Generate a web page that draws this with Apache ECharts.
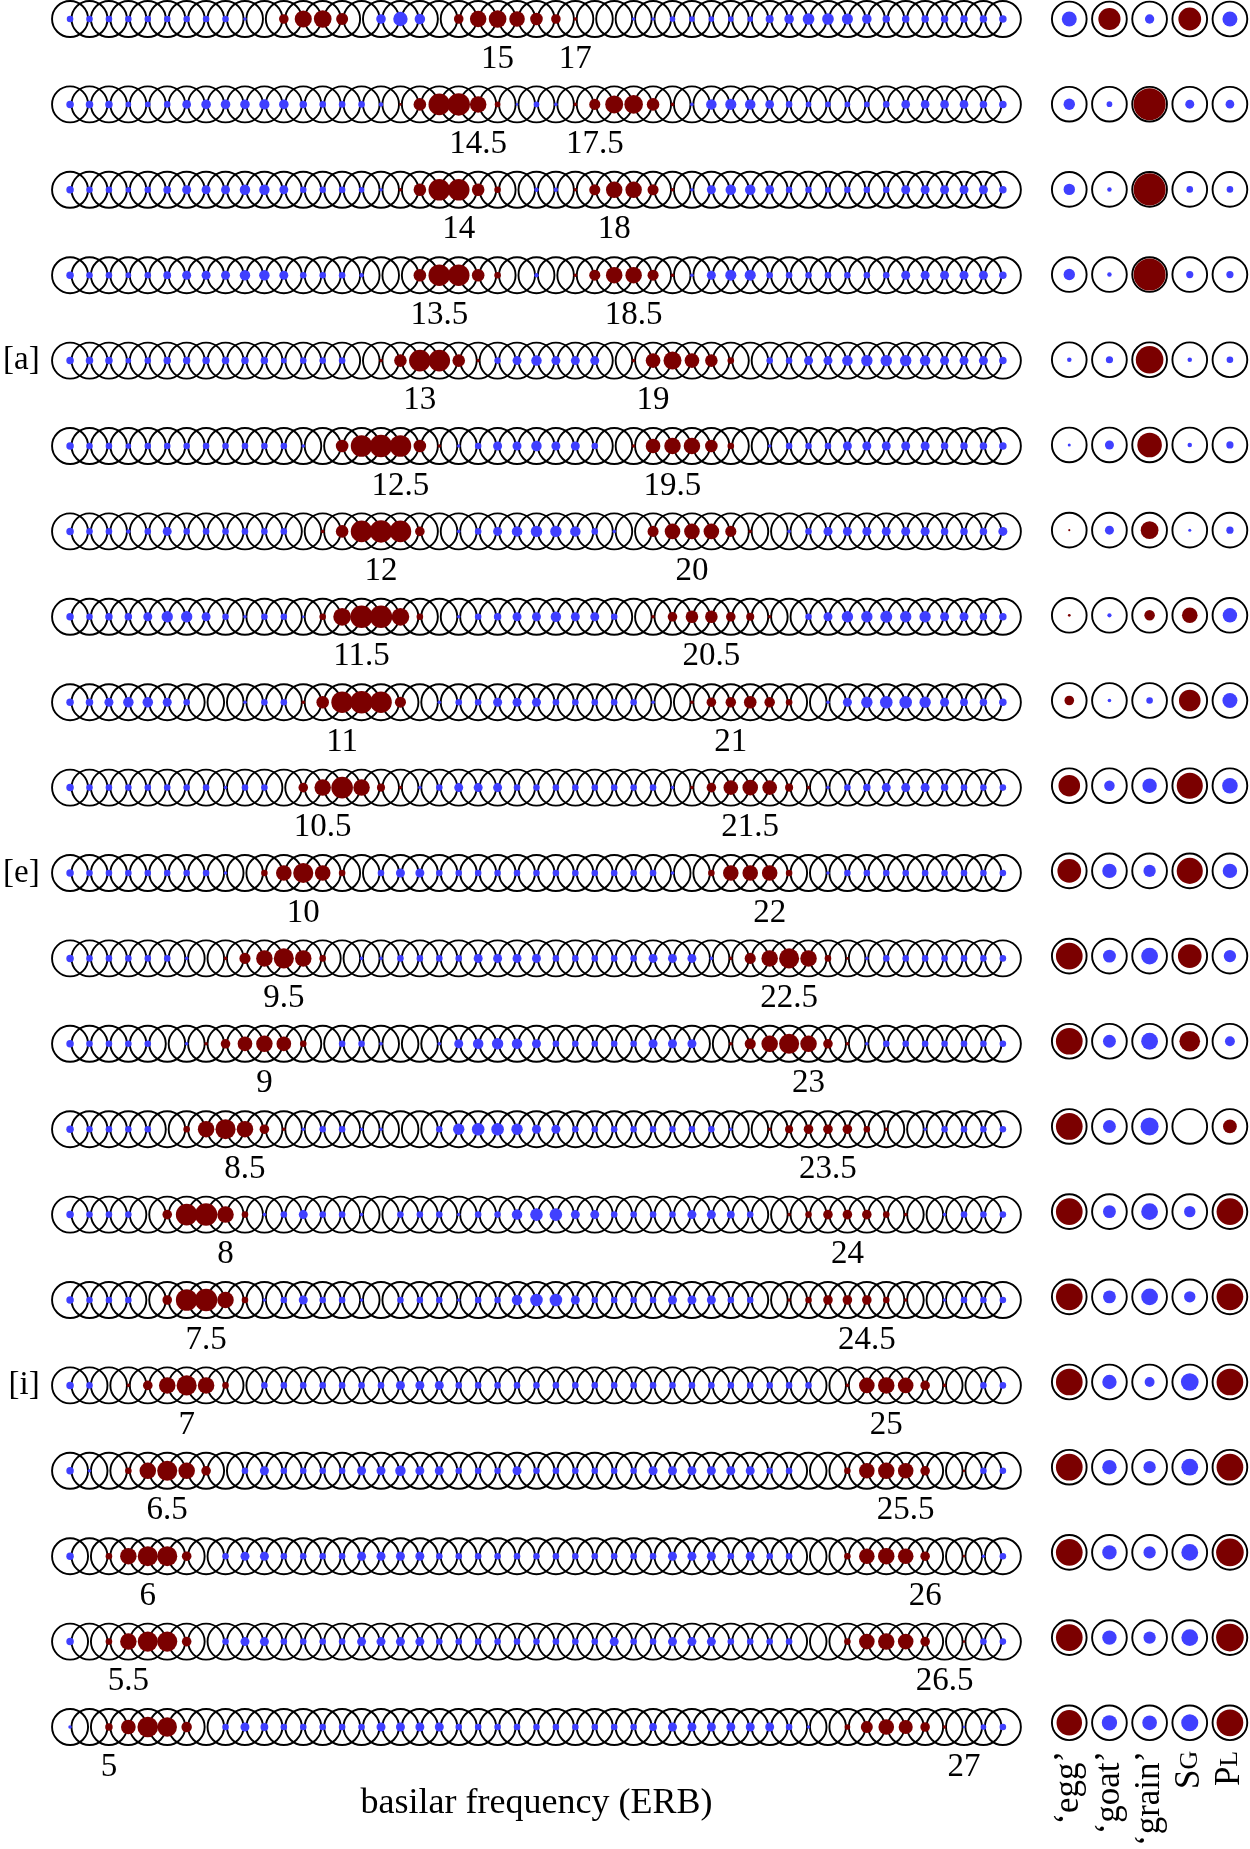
<!DOCTYPE html>
<html>
<head>
<meta charset="utf-8">
<title>basilar frequency (ERB)</title>
<script src="https://cdn.jsdelivr.net/npm/echarts@6/dist/echarts.min.js"></script>
<style>
  html, body { margin: 0; padding: 0; background: #fff; }
  #chart { width: 1250px; height: 1849px; }
</style>
</head>
<body>
<div id="chart"></div>
<script>
// filter centres along the chain (ERB)
const erbCentres = [4, 4.5, 5, 5.5, 6, 6.5, 7, 7.5, 8, 8.5, 9, 9.5, 10, 10.5, 11, 11.5, 12, 12.5, 13, 13.5,
  14, 14.5, 15, 15.5, 16, 16.5, 17, 17.5, 18, 18.5, 19, 19.5, 20, 20.5, 21, 21.5, 22, 22.5, 23, 23.5,
  24, 24.5, 25, 25.5, 26, 26.5, 27, 27.5, 28];

// the two frequencies written under each row
const lowLabels = [15, 14.5, 14, 13.5, 13, 12.5, 12, 11.5, 11, 10.5, 10, 9.5, 9, 8.5, 8, 7.5, 7, 6.5, 6, 5.5, 5];
const highLabels = [17, 17.5, 18, 18.5, 19, 19.5, 20, 20.5, 21, 21.5, 22, 22.5, 23, 23.5, 24, 24.5, 25, 25.5, 26, 26.5, 27];
const rowTags = ['', '', '', '', '[a]', '', '', '', '', '', '[e]', '', '', '', '', '', '[i]', '', '', '', ''];

// response of each filter, one array per row (+ = red, - = blue, size = magnitude)
const r0 = [-2, -2, -2, -2, -2, -2, -2, -2, -2, -1, 0, 3, 5.5, 5.7, 3.8, 0, -3, -4.6, -3.3,
  0, 3, 5.3, 5.7, 5, 4, 3, 1, 0, 0, -1, -1, -1.7, -1.7, -1.7, -1.7, -1.7, -2.5, -3, -3.7,
  -3.7, -3.5, -3, -2.3, -2.3, -2.3, -2.3, -2.3, -2.3, -2.3];
const r1 = [-2.3, -2.3, -2.3, -1.7, -1.7, -2, -2.7, -3, -3, -3, -3.2, -3, -2.3, -2, -2, -2, -1.3, 0.7, 4,
  7, 7.3, 5.3, 1.7, -0.7, -1.7, -1, 1, 3.5, 5.8, 6, 4, 1, -1, -3.3, -3.5, -3.3, -2.7, -2, -1.7,
  -1.7, -1.7, -1.7, -2, -2.7, -2.7, -2.7, -2.7, -2.3, -2.3];
const r2 = [-2.3, -2, -2, -1.7, -2, -2.4, -2.8, -2.8, -2.8, -3.3, -3.3, -2.8, -2, -2, -2, -1.7, -1, 1, 4,
  7, 7, 4, 2, 0, -1.3, -1.3, 1, 3.5, 5.3, 5.3, 3.5, 1, -1, -2.8, -3.3, -3.3, -2.8, -2, -2,
  -1.7, -2, -2, -2, -2.8, -2.8, -2.8, -2.8, -2.8, -2.3];
const r3 = [-2.3, -2, -2, -1.7, -2, -2.4, -2.8, -2.8, -2.8, -3.3, -3.3, -2.8, -2, -2, -2, -1.3, 0, 0, 4,
  7, 7, 4, 2, 0, -1.3, 0, 1, 3.5, 5.3, 5.3, 3.5, 1, -1, -2.8, -3.5, -3.5, -2, -2, -2,
  -2, -2, -2, -2, -2.8, -2.8, -2.8, -2.8, -2.8, -2.3];
const r4 = [-2.3, -2.3, -2.3, -1.7, -2, -2.3, -2.3, -2.3, -2.3, -2.3, -2.3, -1.7, -2, -2, -2, 0, 1, 4, 7,
  7, 4, 1, -2, -2.8, -3.3, -2.8, -2.8, -2.8, 0, 1, 4.7, 5.8, 4.7, 4, 2, 0, -2, -2, -2.8,
  -2.8, -3.3, -3.6, -3.6, -3.6, -3.3, -2.8, -2.8, -2.8, -2.3];
const r5 = [-2.3, -2, -2, -1.7, -2, -2, -2, -2, -2, -2, -2, -2, -1, 0, 4, 7, 7.3, 7, 4,
  1, -1, -2, -2.8, -2.8, -3.3, -2.8, -2.8, -2, 0, 1, 4.7, 5.3, 5.3, 4, 2, 0, -1, -2, -2,
  -2, -2.8, -2.8, -2.8, -2.8, -2.8, -2.3, -2.3, -2.3, -2.3];
const r6 = [-2.3, -2, -2, -1.3, -2, -2.8, -2, -2, -2, -2, -2, -2, 0, 1, 4, 7, 7.3, 7, 3,
  0, -1, -2, -2.8, -3.3, -3.6, -3.6, -3.3, -2, -1, 0, 3.5, 5, 5, 5, 3.5, 1, 0, -1, -2,
  -2.8, -2.8, -2.8, -2.8, -2.8, -2.8, -2.3, -2.3, -2.3, -2.8];
const r7 = [-2.3, -2, -2.3, -2.3, -2.8, -3.6, -3.6, -2.8, -2, -1, -2, -2, -0.7, 2, 5.7, 7.3, 7.3, 5.7, 2,
  0, -1, -2, -2.3, -2.8, -2.8, -3.3, -2.8, -2.8, -2, 0, 1, 3, 4, 4, 3, 2.5, 1, 0, -2,
  -2.8, -3.6, -3.6, -3.8, -3.6, -3.6, -2.8, -2.8, -2.3, -2.3];
const r8 = [-2.3, -2.3, -2.8, -3.3, -3.3, -2.8, -2, 0, 0, -1, -2, -2, 1, 4, 7, 7.3, 7, 3.5, 0,
  -1, -2, -2, -2.8, -2.8, -2.8, -2, -2, -2, -2, -2, -1, 0, 1, 3, 3.3, 4, 3.3, 2, 0,
  -1, -2.8, -3.6, -4, -4, -3.6, -2.8, -2.4, -2.3, -2.3];
const r9 = [-2.3, -2, -2, -2, -2, -2, -2, -2, -1, -2, -2, 0, 3, 5.3, 7, 5.3, 2.5, 1, -1,
  -2, -2.8, -2.8, -2.8, -2, -2, -2, -2, -2, -2, -2, -2, -1, 1, 3, 4.7, 5, 4.7, 2.5, 1,
  -1, -2, -2.3, -2.8, -2.8, -2.8, -2.3, -2, -2, -2];
const r10 = [-2.3, -2, -2, -2, -2, -2, -2, -2, -1, 0, 2, 5, 6.5, 5, 2, 0, -2, -2.8, -2.8,
  -2, -2, -2, -2, -2, -2, -2, -2, -2, -2, -2, -2, -1, 0, 2, 5, 5, 5, 2, 0,
  -1, -2, -2, -2, -2, -2, -2, -2, -2, -2];
const r11 = [-2.3, -2, -2, -2, -2, -2, -1, 0, 1, 3.5, 5.3, 6.5, 5.3, 2, 0, -1, -1, -2, -2,
  -2, -2, -2.8, -2.8, -2.8, -2.8, -2, -2, -2, -2, -2, -2.8, -2.8, -2.8, -1, 1, 3.5, 5.3, 6.5, 5.3,
  2, 0.7, -1, -2, -2, -2, -2, -2, -2, -2];
const r12 = [-2.3, -2, -2, -2, -2, 0, -1, 1, 3, 4.7, 5.3, 4.7, 2, 0, -2, -2, -1, 0, 0,
  -1, -2.8, -3.3, -3.6, -3.3, -2.8, -2, -2, -2, -2, -2, -2.8, -2.8, -2.8, 0, 1, 3.5, 5.3, 6.5, 5.3,
  3, 1, -1, -2, -2, -2, -2, -2, -2, -2];
const r13 = [-2.3, -2, -2, -2, -2, 0, 2, 5.3, 6.5, 5.3, 3, 1, -1, -2, -2, -1, -1, 0, 0,
  -2, -3.6, -4, -4, -3.6, -2.8, -2.8, -2, -2, -2, -2, -2, -2, -2, -2, -1, 0, 1, 2.5, 3,
  3, 3, 2, 1, 0, -1, -2, -2, -2, -2];
const r14 = [-2.3, -2, -2, -2, 0, 3, 7, 7.3, 5.3, 2, -1, -2, -2.8, -2, -2, -1, 0, -2, -2,
  -2, -1, -2, -2, -3.3, -4, -4, -2.8, -2.8, -2, -2, -2, -2, -2.8, -2.8, -2.4, -2, 0, 1, 2,
  3, 3, 3, 2, 1, 0, -1, -2, -2, -2];
const r15 = [-2.3, -2, -2, -2, 0, 3, 7, 7.3, 5.3, 2, -1, -2, -2.8, -2, -2, -1, 0, -2, -2,
  -2, -1, -2, -2, -3.3, -4, -4, -2.8, -2, -2, -2, -2, -2.8, -2.8, -2.8, -2, -2, 0, 1, 2,
  3, 3, 3, 2, 1, 0, -1, -2, -2, -2];
const r16 = [-2.3, -2, 0, 1, 3, 5.3, 6.5, 5.3, 2, 0, -2, -2, -2, -2, -2, -2, -2, -2.8, -2.8,
  -2.8, -2, -2, -2, -2, -2, -2, -2, -2, -2, -2, -2, -2, -2, -2, -2, -2, -2, -2, -2,
  0, 1, 5, 5.3, 5, 3, 1, 0, -2, -2];
const r17 = [-2.3, -1, 0, 2, 5.3, 6.5, 5.3, 3, 0, -2, -2.8, -2, -2, -2, -2, -2.8, -2.8, -3.3, -2.8,
  -2.8, -2, -2, -2, -2.8, -2, -2, -2, -2, -2, -2, -2.8, -2.8, -2.8, -2.8, -2.8, -2.8, -2, -2, 0,
  0, 2, 5, 5.3, 5, 3, 0, 0.7, -2, -2];
const r18 = [-2.3, 0, 2, 5.3, 6.5, 6.5, 3, 0, -2, -2.8, -2.8, -2, -2, -2, -2, -2.8, -2.8, -2.8, -2.8,
  -2, -2, -2, -2, -2, -2, -2, -2, -2, -2, -2, -2, -2.8, -2.8, -2.8, -2, -2.8, -2, -2, 0,
  0, 2, 5, 5.3, 5, 3, 0, 0.7, -1, -2];
const r19 = [-2.3, 0, 2, 5.3, 6.5, 6.5, 3, 0, -2, -2.8, -2.8, -2, -2, -2, -2, -2.8, -2.8, -2.8, -2.8,
  -2, -2, -2, -2, -2, -2, -2, -2, -2, -2.8, -2, -2, -2.8, -2.8, -2.8, -2, -2, -2, -2, 0,
  0, 2, 5, 5.3, 5, 3, 0, 0.7, -2, -2];
const r20 = [-1, 0, 2.3, 4.7, 6.7, 6.3, 3.3, 0, -2, -2.8, -2.4, -2, -2, -2, -2, -2, -2.8, -2.8, -2.8,
  -2.8, -2, -2, -2, -2, -2, -2, -2, -2, -2, -2, -2.4, -2.8, -2.8, -2.8, -2.8, -2.8, -2.8, -2, -1,
  0, 1.7, 3.8, 5, 4.5, 3, 1, -0.7, -1.7, -2];
const rows = [r0, r1, r2, r3, r4, r5, r6, r7, r8, r9, r10, r11, r12, r13, r14, r15, r16, r17, r18, r19, r20];

// right-hand panel: one value per row for each template
const panelNames = ['‘egg’', '‘goat’', '‘grain’', 'SG', 'PL'];
const egg = [-4.8, -3.6, -3.6, -3.6, -1.3, -0.8, 0.5, 0.7, 3, 7, 7.7, 8.7, 8.7, 8.7, 8.7, 8.7, 8.7, 8.7, 8.7, 8.7, 8.3];
const goat = [7.2, -1.7, -1.3, -1.3, -2.2, -2.8, -2.8, -1.2, -1, -3.3, -4.6, -4.1, -4.1, -4.1, -4.1, -4.1, -4.6, -4.6, -4.6, -4.6, -4.9];
const grain = [-2.9, 10.5, 10.5, 10.5, 9, 8, 5.7, 3.3, -2, -4.6, -3.9, -5.4, -5.4, -5.8, -5.4, -5.4, -3.1, -3.9, -3.9, -3.9, -4.7];
const sg = [7.4, -2.8, -2, -2.2, -1.3, -1.3, -0.8, 5, 7, 8.5, 8.5, 7.7, 6.7, 0, -3.6, -3.6, -5.7, -5.4, -5.4, -5.4, -5.5];
const pl = [-4.8, -2.7, -2, -2.2, -2, -2.2, -2.2, -4.6, -4.8, -5, -4.6, -3.9, -3.1, 4.4, 8.7, 8.7, 8.7, 8.7, 9, 9, 8.7];
const panelCols = [egg, goat, grain, sg, pl];

const RED = '#7b0000';
const BLUE = '#4040ff';
const FONT = '"Liberation Serif", "DejaVu Serif", serif';

// build series data
const ringData = [];
const dotData = [];
rows.forEach((row, i) => {
  row.forEach((v, k) => {
    ringData.push([erbCentres[k], i]);
    if (v !== 0) dotData.push([erbCentres[k], i, v]);
  });
});

const panelRingData = [];
const panelDotData = [];
panelCols.forEach((col, j) => {
  col.forEach((v, i) => {
    panelRingData.push([j, i]);
    if (v !== 0) panelDotData.push([j, i, v]);
  });
});

const labelData = [];
lowLabels.forEach((v, i) => labelData.push([v, i, v]));
highLabels.forEach((v, i) => labelData.push([v, i, v]));

const dotSize = val => Math.abs(val[2]) * 3 + 0.6;
const dotColor = p => (p.value[2] > 0 ? RED : BLUE);

const chart = echarts.init(document.getElementById('chart'));

const option = {
  animation: false,
  backgroundColor: '#fff',
  grid: [
    { left: 48.8, top: 19, width: 973.5, height: 1708 },
    { left: 1049.2, top: 19, width: 201.5, height: 1708 }
  ],
  xAxis: [
    {
      gridIndex: 0,
      type: 'value',
      min: 3.5,
      max: 28.5,
      name: 'basilar frequency (ERB)',
      nameLocation: 'middle',
      nameGap: 59,
      nameTextStyle: { fontFamily: FONT, fontSize: 36, color: '#000' },
      axisLine: { show: false },
      axisTick: { show: false },
      axisLabel: { show: false },
      splitLine: { show: false }
    },
    {
      gridIndex: 1,
      type: 'category',
      data: panelNames,
      axisLine: { show: false },
      axisTick: { show: false },
      splitLine: { show: false },
      axisLabel: {
        interval: 0,
        rotate: 90,
        margin: 28,
        color: '#000',
        formatter: function (name) {
          if (name === 'SG' || name === 'PL') {
            return '{big|' + name[0] + '}{small|' + name.slice(1) + '}';
          }
          return '{big|' + name + '}';
        },
        rich: {
          big: { fontFamily: FONT, fontSize: 35, color: '#000' },
          small: { fontFamily: FONT, fontSize: 26, color: '#000' }
        }
      }
    }
  ],
  yAxis: [
    {
      gridIndex: 0,
      type: 'value',
      min: 0,
      max: 20,
      interval: 1,
      inverse: true,
      axisLine: { show: false },
      axisTick: { show: false },
      splitLine: { show: false },
      axisLabel: {
        margin: 11,
        fontFamily: FONT,
        fontSize: 33,
        color: '#000',
        formatter: v => rowTags[v] || ''
      }
    },
    {
      gridIndex: 1,
      type: 'value',
      min: 0,
      max: 20,
      inverse: true,
      show: false
    }
  ],
  series: [
    {
      name: 'filters',
      type: 'scatter',
      xAxisIndex: 0,
      yAxisIndex: 0,
      data: ringData,
      symbol: 'circle',
      symbolSize: 36,
      clip: false,
      silent: true,
      z: 1,
      itemStyle: { color: 'rgba(0,0,0,0)', borderColor: '#000', borderWidth: 1.9, opacity: 1 }
    },
    {
      name: 'response',
      type: 'scatter',
      xAxisIndex: 0,
      yAxisIndex: 0,
      data: dotData,
      symbol: 'circle',
      symbolSize: dotSize,
      clip: false,
      silent: true,
      z: 2,
      itemStyle: { color: dotColor, opacity: 1 }
    },
    {
      name: 'labels',
      type: 'scatter',
      xAxisIndex: 0,
      yAxisIndex: 0,
      data: labelData,
      symbolSize: 1,
      clip: false,
      silent: true,
      z: 3,
      itemStyle: { color: 'rgba(0,0,0,0)', opacity: 1 },
      label: {
        show: true,
        position: 'inside',
        offset: [0, 40],
        fontFamily: FONT,
        fontSize: 33,
        color: '#000',
        opacity: 1,
        formatter: p => String(p.value[2])
      }
    },
    {
      name: 'templates',
      type: 'scatter',
      xAxisIndex: 1,
      yAxisIndex: 1,
      data: panelRingData,
      symbol: 'circle',
      symbolSize: 34.7,
      clip: false,
      silent: true,
      z: 1,
      itemStyle: { color: 'rgba(0,0,0,0)', borderColor: '#000', borderWidth: 1.9, opacity: 1 }
    },
    {
      name: 'match',
      type: 'scatter',
      xAxisIndex: 1,
      yAxisIndex: 1,
      data: panelDotData,
      symbol: 'circle',
      symbolSize: dotSize,
      clip: false,
      silent: true,
      z: 2,
      itemStyle: { color: dotColor, opacity: 1 }
    }
  ]
};

chart.setOption(option);
</script>
</body>
</html>
